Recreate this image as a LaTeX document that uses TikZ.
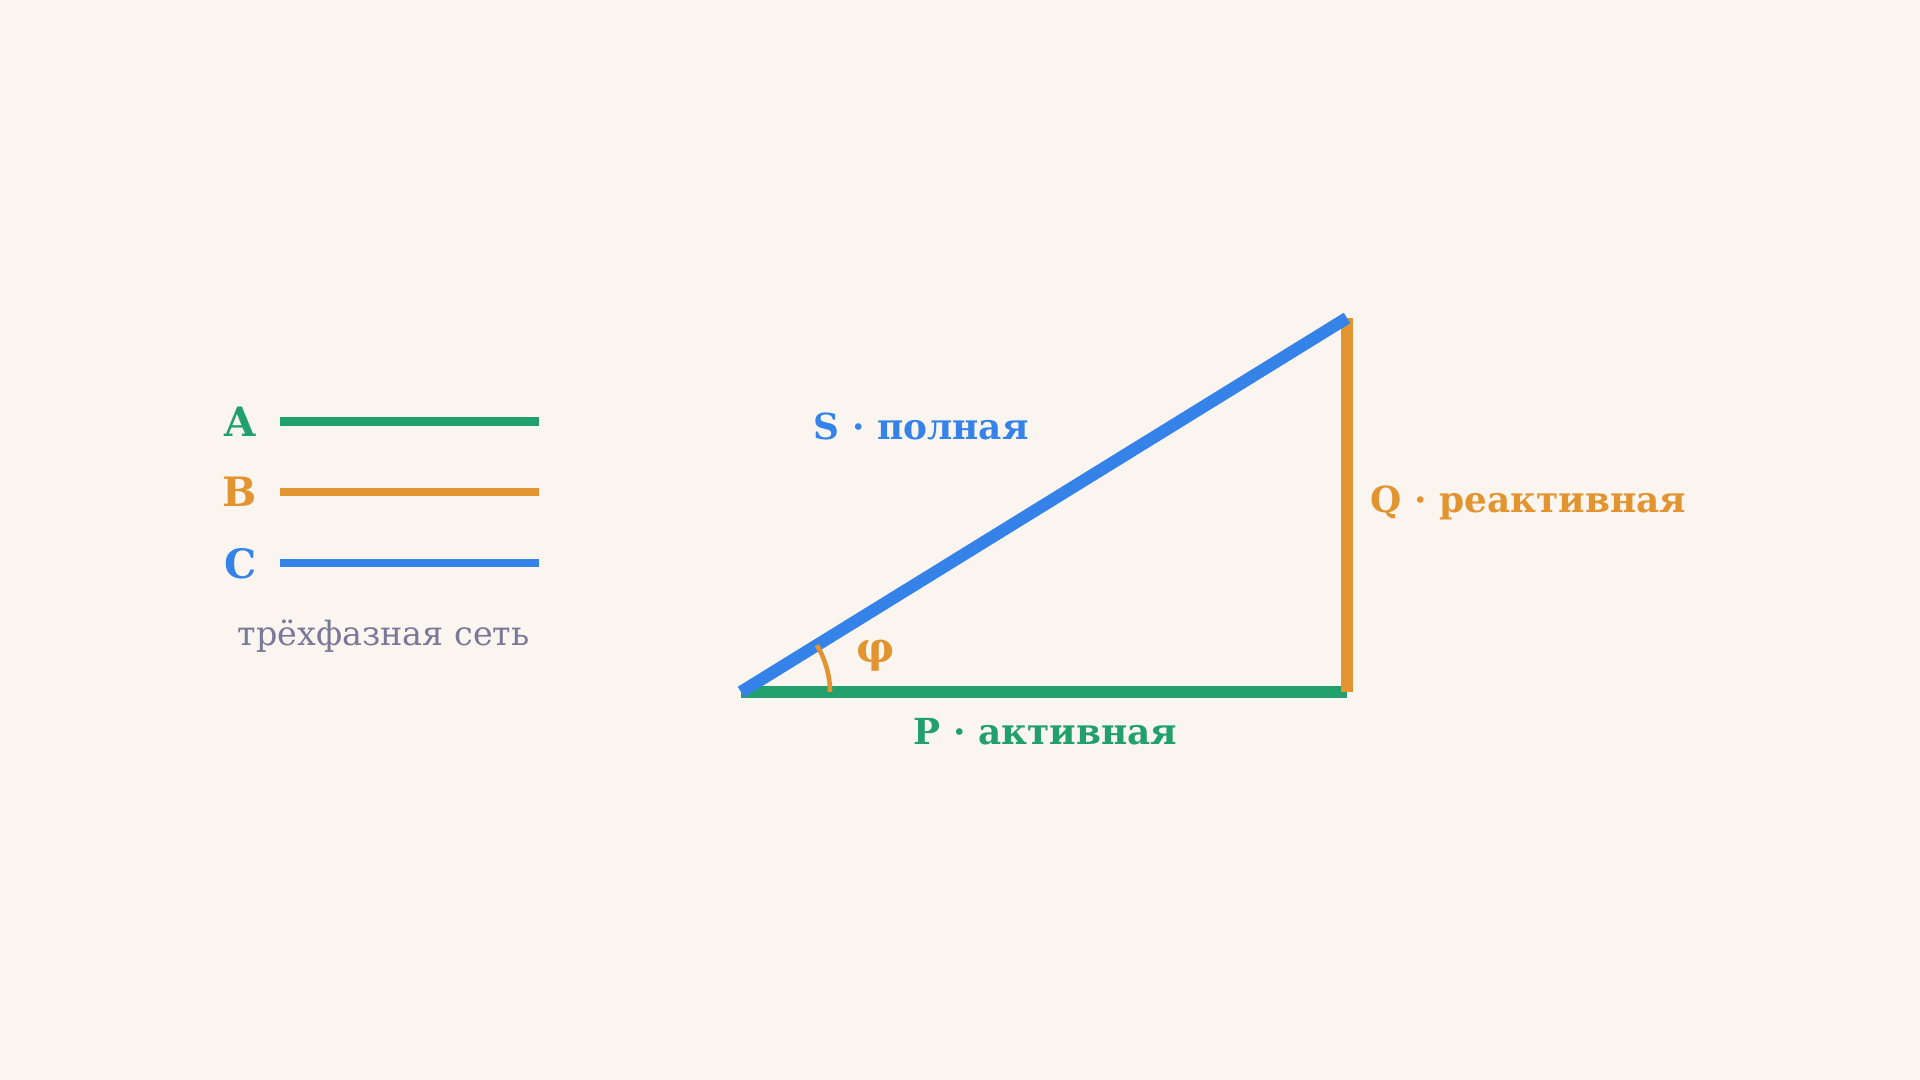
\documentclass[tikz,border=0pt]{standalone}
\usepackage{fontspec}
\usetikzlibrary{calc}
\setmainfont{DejaVu Serif}
\definecolor{bg}{HTML}{FBF5EF}
\definecolor{cgreen}{HTML}{22A06B}
\definecolor{corange}{HTML}{E29430}
\definecolor{cblue}{HTML}{3582E8}
\definecolor{cgray}{HTML}{7A7898}
\begin{document}
\begin{tikzpicture}[x=0.01cm,y=-0.01cm,
  lbl/.style={inner sep=0pt,font=\fontsize{10.2}{12}\selectfont\bfseries},
  leg/.style={line width=2.3pt},
  side/.style={line width=3.3pt}]
\fill[bg] (0,0) rectangle (1920,1080);
\useasboundingbox (0,0) rectangle (1920,1080);
% legend
\coordinate (a1) at (280,421.5); \coordinate (a2) at (539,421.5);
\coordinate (b1) at (280,492); \coordinate (b2) at (539,492);
\coordinate (c1) at (280,563); \coordinate (c2) at (539,563);
\draw[leg,cgreen] (a1) -- (a2);
\draw[leg,corange] (b1) -- (b2);
\draw[leg,cblue] (c1) -- (c2);
\node[lbl,text=cgreen,anchor=base east,font=\fontsize{11.5}{13}\selectfont\bfseries] (la) at (257,437) {A};
\node[lbl,text=corange,anchor=base east,font=\fontsize{11.5}{13}\selectfont\bfseries] (lb) at (257,507) {B};
\node[lbl,text=cblue,anchor=base east,font=\fontsize{11.5}{13}\selectfont\bfseries] (lc) at (257,579) {C};
\node[inner sep=0pt,text=cgray,anchor=base west,font=\fontsize{9.5}{12}\selectfont] (net) at (237,646) {трёхфазная сеть};
% triangle
\coordinate (O) at (741,692);
\coordinate (R) at (1347,692);
\coordinate (T) at (1347,318);
\coordinate (A0) at (830,692);
\draw[side,cgreen] (O) -- (R);
\draw[side,corange] (R) -- (T);
\draw[line width=3.5pt,cblue] (O) -- (T);
\draw[corange,line width=1.3pt] (A0) arc[start angle=0,end angle=-31.7,radius=89];
\node[inner sep=0pt,text=corange,font=\fontsize{12}{14}\selectfont\bfseries] (phi) at (876,655) {φ};
\node[lbl,text=cblue,anchor=base west] (S) at (813,440) {S · полная};
\node[lbl,text=cgreen,anchor=base west] (P) at (913,745) {P · активная};
\node[lbl,text=corange,anchor=base west] (Q) at (1370,513) {Q · реактивная};
\end{tikzpicture}
\end{document}
